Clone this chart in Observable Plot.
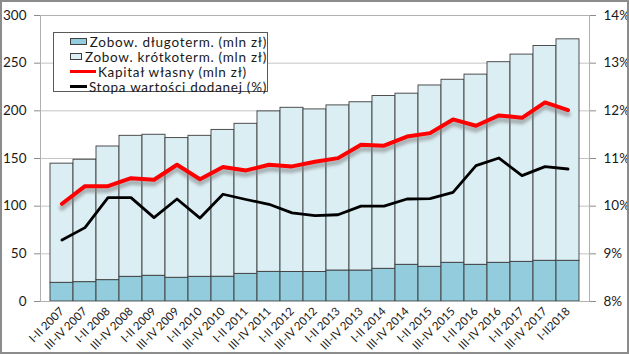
<!DOCTYPE html>
<html>
<head>
<meta charset="utf-8">
<script src="https://cdn.jsdelivr.net/npm/d3@7"></script>
<script src="https://cdn.jsdelivr.net/npm/@observablehq/plot@0.6"></script>
<style>
  body { margin: 0; background: #fff; }
  #wrap { position: relative; width: 629px; height: 354px; overflow: hidden; font-family: Lato, "Open Sans", sans-serif; }
  #chart { position: absolute; left: 0; top: 0; }
  #border { position: absolute; left: 0; top: 0; width: 629px; height: 354px; box-sizing: border-box; border: 2px solid #8c8c8c; pointer-events: none; }
  #legend { position: absolute; left: 53px; top: 32px; width: 215px; height: 60px; box-sizing: border-box; border: 1px solid #595959; background: #fff; padding: 1px 0 0 16px; }
  .row { display: flex; align-items: center; height: 15px; font-size: 13.5px; letter-spacing: 0.72px; color: #1a1a1a; white-space: nowrap; }
  .sw { width: 24px; height: 7px; box-sizing: border-box; border: 1px solid #404040; margin-right: 3px; }
  .ln { width: 26px; height: 3px; margin-right: 2px; }
</style>
</head>
<body>
<div id="wrap">
  <div id="chart"></div>
  <div id="legend"></div>
  <div id="border"></div>
</div>
<script>
const categories = ["I-II 2007","III-IV 2007","I-II 2008","III-IV 2008","I-II 2009","III-IV 2009","I-II 2010","III-IV 2010","I-II 2011","III-IV 2011","I-II 2012","III-IV 2012","I-II 2013","III-IV 2013","I-II 2014","III-IV 2014","I-II 2015","III-IV 2015","I-II 2016","III-IV 2016","I-II 2017","III-IV 2017","I-II2018"];
const dlugoterm = [19.6,20.3,22.4,25.9,27.0,24.9,25.9,26.0,29.0,31.1,31.0,31.0,32.5,32.5,34.3,38.5,36.4,40.6,38.5,40.6,41.6,42.7,42.7];
const krotkoterm = [125.0,128.4,140.2,147.9,147.9,146.5,147.9,154.0,157.4,168.3,172.2,170.5,173.2,176.5,181.2,179.5,190.2,192.0,199.5,210.4,217.4,225.3,232.3];
const kapital = [102.5,121.0,121.0,129.4,127.7,143.4,128.3,141.0,137.5,143.4,141.7,146.6,150.4,164.4,163.4,173.0,176.6,191.0,184.3,195.2,192.7,208.8,200.8];
const stopa = [9.29,9.55,10.18,10.18,9.76,10.15,9.75,10.25,10.14,10.04,9.86,9.80,9.82,10.00,10.00,10.15,10.16,10.29,10.85,11.01,10.64,10.83,10.78];
const leftTicks = [0,50,100,150,200,250,300];
const rightTickLabels = ["8%","9%","10%","11%","12%","13%","14%"];
const seriesNames = ["Zobow. długoterm. (mln zł)","Zobow. krótkoterm. (mln zł)","Kapitał własny (mln zł)","Stopa wartości dodanej (%)"];
const colors = {bar1: "#93cddd", bar2: "#dbeef4", red: "#ff0000", black: "#000000"};

const barData = categories.flatMap((c, i) => [
  {cat: c, series: seriesNames[0], value: dlugoterm[i]},
  {cat: c, series: seriesNames[1], value: krotkoterm[i]}
]);
const redData = categories.map((c, i) => ({cat: c, v: kapital[i]}));
// secondary axis: 8%..14% mapped onto 0..300
const blackData = categories.map((c, i) => ({cat: c, v: (stopa[i] - 8) * 50}));

const chart = Plot.plot({
  width: 629,
  height: 354,
  marginLeft: 40,
  marginRight: 40,
  marginTop: 15,
  marginBottom: 53,
  style: {fontFamily: "Lato, 'Open Sans', sans-serif", background: "transparent", color: "#1a1a1a"},
  x: {type: "band", domain: categories, padding: 0, label: null},
  y: {domain: [0, 300], label: null},
  color: {domain: [seriesNames[0], seriesNames[1]], range: [colors.bar1, colors.bar2]},
  marks: [
    Plot.gridY(leftTicks, {stroke: "#c4c4c4", strokeOpacity: 1}),
    Plot.barY(barData, {x: "cat", y: "value", fill: "series", stroke: "#3c3c3c", strokeWidth: 0.9}),
    Plot.ruleY([0], {stroke: "#a6a6a6"}),
    Plot.frame({stroke: "#b0b0b0", fill: "none"}),
    Plot.line(redData, {x: "cat", y: "v", stroke: "#7f7f7f", strokeWidth: 5.5, strokeOpacity: 0.55, dy: 4}),
    Plot.line(redData, {x: "cat", y: "v", stroke: colors.red, strokeWidth: 4}),
    Plot.line(blackData, {x: "cat", y: "v", stroke: colors.black, strokeWidth: 2.8}),
    Plot.axisY({anchor: "left", ticks: leftTicks, tickSize: 6, tickPadding: 8, fontSize: 13.5, stroke: "#8c8c8c", label: null}),
    Plot.axisY({anchor: "right", ticks: leftTicks, tickFormat: (d, i) => rightTickLabels[i], tickSize: 6, tickPadding: 8, fontSize: 13.5, stroke: "#8c8c8c", label: null}),
    Plot.axisX({tickRotate: -45, tickSize: 0, tickPadding: 8, fontSize: 11.5, label: null})
  ]
});
document.getElementById("chart").appendChild(chart);

// blur the red line's shadow
const lines = chart.querySelectorAll('g[aria-label="line"]');
if (lines.length) lines[0].style.filter = "blur(1.6px)";

// legend
const legend = document.getElementById("legend");
const items = [
  {name: seriesNames[0], kind: "sw", color: colors.bar1},
  {name: seriesNames[1], kind: "sw", color: colors.bar2},
  {name: seriesNames[2], kind: "ln", color: colors.red},
  {name: seriesNames[3], kind: "ln", color: colors.black}
];
for (const it of items) {
  const row = document.createElement("div");
  row.className = "row";
  const s = document.createElement("div");
  s.className = it.kind;
  s.style.background = it.color;
  row.appendChild(s);
  const t = document.createElement("span");
  t.textContent = it.name;
  row.appendChild(t);
  legend.appendChild(row);
}
</script>
</body>
</html>
